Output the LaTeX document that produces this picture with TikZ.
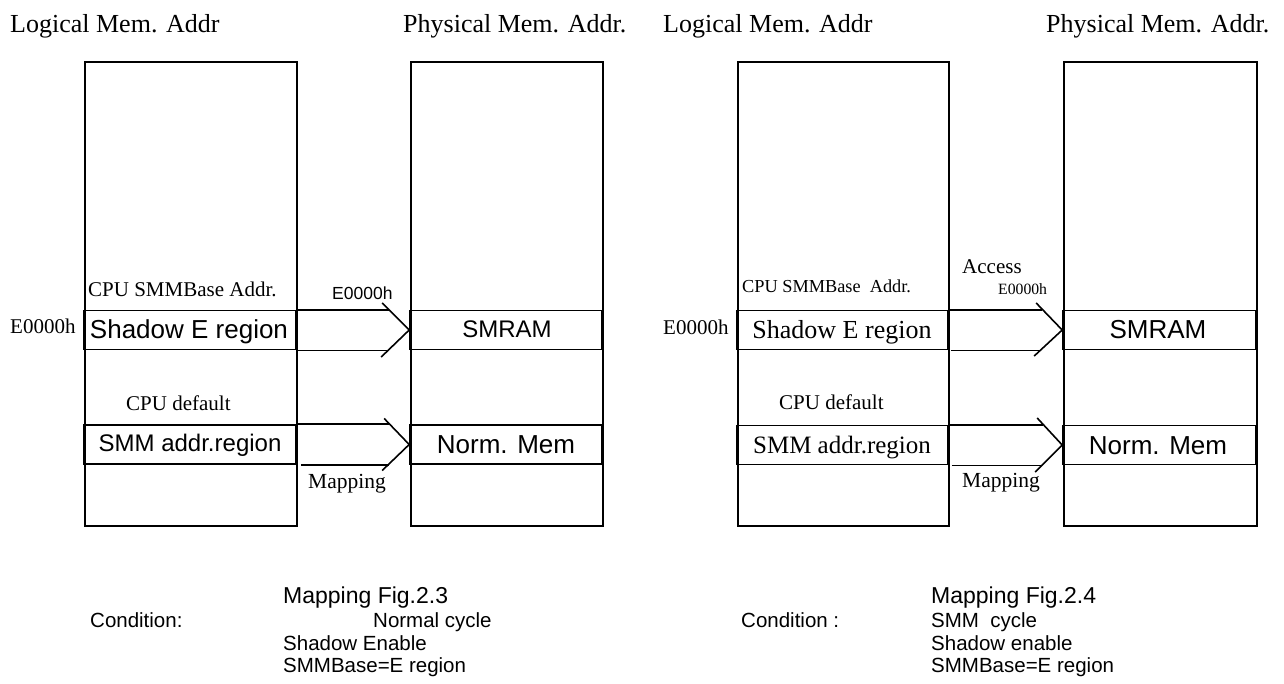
\documentclass[tikz,border=0pt]{standalone}
\usepackage{fontspec}
\setmainfont{Liberation Serif}
\newfontfamily\arialf{Liberation Sans}
\usetikzlibrary{calc}
\newcommand{\fsz}[1]{\fontsize{#1}{#1}\selectfont}
\begin{document}
\begin{tikzpicture}[x=1pt,y=-1pt,
  ln/.style={line width=1.6pt},
  mem/.style={draw, line width=1.6pt, minimum height=464, inner sep=0, anchor=north west},
  band/.style={draw, line width=1.6pt, minimum height=39, inner sep=0},
  tx/.style={inner sep=0, anchor=base west},
  tc/.style={inner sep=0, anchor=base}
]
\useasboundingbox (0,0) rectangle (1284,683);

% ================= left figure =================
\node[tx] (h1) at (10,32) {\fsz{26}Logical Mem. Addr};
\node[tx] (h2) at (403,32) {\fsz{26}Physical Mem. Addr.};

\node[mem, minimum width=212] (L1) at (84,61) {};
\node[mem, minimum width=192] (P1) at (410,61) {};
\node[band, minimum width=212] (L1s) at (190,330) {};
\node[band, minimum width=212] (L1n) at (190,444.5) {};
\node[band, minimum width=192] (P1s) at (506,330) {};
\node[band, minimum width=192] (P1n) at (506,444.5) {};

\node[tx] (t1a) at (88,296) {\fsz{21}CPU SMMBase Addr.};
\node[tx] (t1b) at (332,299) {\arialf\fsz{17.5}E0000h};
\node[tx] (t1c) at (10,333) {\fsz{21}E0000h};
\node[tc] (t1d) at (189,338) {\arialf\fsz{26}Shadow E region};
\node[tc] (t1e) at (507,337) {\arialf\fsz{24}SMRAM};
\node[tx] (t1f) at (126,410) {\fsz{21}CPU default};
\node[tc] (t1g) at (190,451) {\arialf\fsz{24}SMM addr.region};
\node[tc] (t1h) at (506,453) {\arialf\fsz{26}Norm. Mem};
\node[tx] (t1i) at (308,488) {\fsz{21.5}Mapping};

\draw[ln] (L1s.north east) -- ($(P1s.north west)+(-20,0)$);
\draw[ln] ($(L1s.south east)+(1,0)$) -- ($(P1s.south west)+(-21,0)$);
\draw[ln] ($(P1s.west)+(-27,-27)$) -- (P1s.west) -- ($(P1s.west)+(-28,27)$);
\draw[ln] (L1n.north east) -- ($(P1n.north west)+(-19,0)$);
\draw[ln] ($(L1n.south east)+(4,0)$) -- ($(P1n.south west)+(-20,0)$);
\draw[ln] ($(P1n.west)+(-25,-26)$) -- (P1n.west) -- ($(P1n.west)+(-27,26)$);

\node[tx] (b1a) at (283,603) {\arialf\fsz{23}Mapping Fig.2.3};
\node[tx] (b1b) at (90,627) {\arialf\fsz{20.5}Condition:};
\node[tx] (b1c) at (373,627) {\arialf\fsz{20.5}Normal cycle};
\node[tx] (b1d) at (283,650) {\arialf\fsz{20.5}Shadow Enable};
\node[tx] (b1e) at (283,672) {\arialf\fsz{20.5}SMMBase=E region};

% ================= right figure =================
\node[tx] (h3) at (663,32) {\fsz{26}Logical Mem. Addr};
\node[tx] (h4) at (1046,32) {\fsz{26}Physical Mem. Addr.};

\node[mem, minimum width=211] (L2) at (737,61) {};
\node[mem, minimum width=193] (P2) at (1063,61) {};
\node[band, minimum width=211] (L2s) at (842.5,330) {};
\node[band, minimum width=211] (L2n) at (842.5,445) {};
\node[band, minimum width=193] (P2s) at (1159.5,330) {};
\node[band, minimum width=193] (P2n) at (1159.5,445) {};

\node[tx] (t2a) at (962,273) {\fsz{21}Access};
\node[tx] (t2b) at (742,292) {\fsz{18.3}CPU SMMBase~ Addr.};
\node[tx] (t2c) at (998,294) {\fsz{15.7}E0000h};
\node[tx] (t2d) at (663,334) {\fsz{21}E0000h};
\node[tc] (t2e) at (842,338) {\fsz{26}Shadow E region};
\node[tc] (t2f) at (1158,338) {\arialf\fsz{26}SMRAM};
\node[tx] (t2g) at (779,409) {\fsz{21}CPU default};
\node[tc] (t2h) at (842,453) {\fsz{25}SMM addr.region};
\node[tc] (t2i) at (1158,454) {\arialf\fsz{26}Norm. Mem};
\node[tx] (t2j) at (962,487) {\fsz{21.5}Mapping};

\draw[ln] (L2s.north east) -- ($(P2s.north west)+(-20,0)$);
\draw[ln] ($(L2s.south east)+(2,0)$) -- ($(P2s.south west)+(-21,0)$);
\draw[ln] ($(P2s.west)+(-26,-27)$) -- (P2s.west) -- ($(P2s.west)+(-28,26)$);
\draw[ln] (L2n.north east) -- ($(P2n.north west)+(-19,0)$);
\draw[ln] ($(L2n.south east)+(3,0)$) -- ($(P2n.south west)+(-20,0)$);
\draw[ln] ($(P2n.west)+(-25,-27)$) -- (P2n.west) -- ($(P2n.west)+(-27,27)$);

\node[tx] (b2a) at (931,603) {\arialf\fsz{23}Mapping Fig.2.4};
\node[tx] (b2b) at (741,627) {\arialf\fsz{20.5}Condition :};
\node[tx] (b2c) at (931,627) {\arialf\fsz{20.5}SMM~ cycle};
\node[tx] (b2d) at (931,650) {\arialf\fsz{20.5}Shadow enable};
\node[tx] (b2e) at (931,672) {\arialf\fsz{20.5}SMMBase=E region};
\end{tikzpicture}
\end{document}
